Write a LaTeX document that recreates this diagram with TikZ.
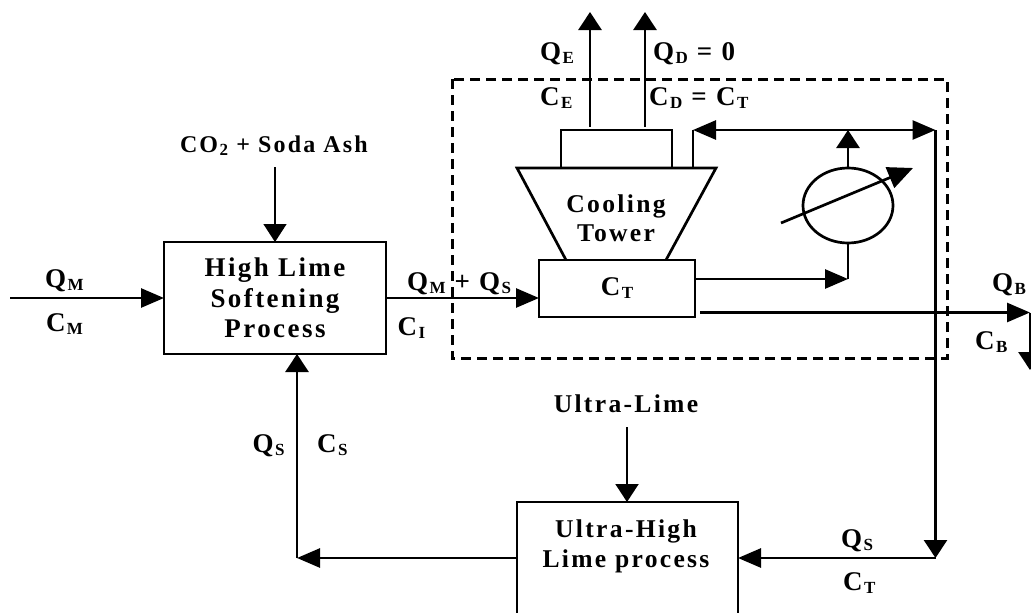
\documentclass[tikz,border=0pt]{standalone}
\usepackage{fontspec}
\usetikzlibrary{arrows.meta}
\newfontfamily\lblfont[LetterSpace=9]{Liberation Serif}
\newcommand{\sbs}[1]{\kern1.5pt{\fontsize{17}{17}\selectfont\raisebox{-3pt}{#1}}}
\tikzset{
  x=1pt,y=-1pt,
  every node/.style={inner sep=0pt,outer sep=0pt},
  lbl/.style={anchor=base west,font=\lblfont\bfseries\fontsize{27}{30.5}\selectfont},
  lblmd/.style={anchor=base,font=\lblfont\bfseries\fontsize{25.6}{30}\selectfont},
  lblsm/.style={anchor=base west,font=\lblfont\bfseries\fontsize{24}{26}\selectfont},
  pbox/.style={draw,line width=2.7pt,align=center,font=\lblfont\bfseries\fontsize{27}{30.5}\selectfont},
  pipe/.style={line width=2.7pt},
  hflow/.style={pipe,-{Triangle[length=23pt,width=19pt]}},
  vflow/.style={pipe,-{Triangle[length=18pt,width=23pt]}},
  thinflow/.style={line width=1.4pt,-{Triangle[length=18pt,width=23pt]}},
  dashbound/.style={line width=3pt,dash pattern=on 10pt off 6pt},
}
\begin{document}
\begin{tikzpicture}
\useasboundingbox (0,0) rectangle (1031,613);
% boundary
\draw[dashbound] (452,79) rectangle (947,358);
% blocks
\node[pbox,minimum width=222pt,minimum height=112pt] (hl) at (275,298) {High Lime\\Softening\\Process};
\node[pbox,minimum width=156pt,minimum height=57pt] (ct) at (617,288.5) {C\sbs{T}};
\node[pbox,minimum width=111pt,minimum height=38pt] (top) at (616.5,149) {};
\node[pbox,minimum width=221pt,minimum height=130pt] (uhl) at (627.5,567) {};
\node[lblmd] (uhlt1) at (626,537) {Ultra-High};
\node[lblmd] (uhlt2) at (626,567) {Lime process};
% tower
\coordinate (t1) at (517,168); \coordinate (t2) at (716,168);
\coordinate (t3) at (666,260); \coordinate (t4) at (566,260);
\draw[pipe,line join=miter] (t4) -- (t1) -- (t2) -- (t3);
\node[lblmd] (tw1) at (616,212) {Cooling};
\node[lblmd] (tw2) at (616,241) {Tower};
% exchanger
\draw[pipe] (848,205.5) ellipse [x radius=45,y radius=37.5];
\node[minimum width=90pt,minimum height=75pt] (hx) at (848,205.5) {};
% free ends and corners
\coordinate (mIn) at (10,298);
\coordinate (co2) at (275,167);
\coordinate (ulime) at (627,427);
\coordinate (eOut) at (590,12); \coordinate (eIn) at (590,127);
\coordinate (dOut) at (645,12); \coordinate (dIn) at (645,127);
\coordinate (riseB) at (693,168); \coordinate (riseT) at (693,130);
\coordinate (junc) at (935.5,130);
\coordinate (mid) at (848,130);
\coordinate (hxIn) at (848,279);
\coordinate (ctOut) at (695,279);
\coordinate (bdS) at (700,312.5);
\coordinate (bdE) at (1030,312.5);
\coordinate (bdT) at (1030,370);
\coordinate (retC) at (935.5,558);
\coordinate (sC) at (297,558);
\coordinate (dgA) at (781,223); \coordinate (dgB) at (913,168);
% connectors
\draw[hflow] (mIn) -- (hl.west);
\draw[thinflow] (co2) -- (hl.north);
\draw[hflow] (hl.east) -- (ct.west |- hl.east);
\draw[vflow] (eIn) -- (eOut);
\draw[vflow] (dIn) -- (dOut);
\draw[pipe] (riseB) -- (riseT);
\draw[hflow] (mid) -- (riseT);
\draw[hflow] (mid) -- (junc);
\draw[vflow] (hx.north) -- (mid);
\draw[hflow] (ctOut) -- (hxIn);
\draw[pipe] (hxIn) -- (hx.south);
\draw[pipe,-{Triangle[length=25pt,width=22pt]}] (dgA) -- (dgB);
\draw[vflow] (junc) -- (retC);
\draw[hflow] (retC) -- (uhl.east |- retC);
\draw[hflow] (uhl.west |- sC) -- (sC);
\draw[vflow] (sC) -- (sC |- hl.south);
\draw[vflow,line width=2pt] (ulime) -- (ulime |- uhl.north);
\draw[hflow] (bdS) -- (bdE);
\draw[vflow] (bdE) -- (bdT);
% labels
\node[lbl] (qm) at (45,287) {Q\sbs{M}};
\node[lbl] (cm) at (46,331) {C\sbs{M}};
\node[lblsm] (co2t) at (180,152) {CO\sbs{2} + Soda Ash};
\node[lbl] (qms) at (407,290) {Q\sbs{M}\kern9pt+ Q\sbs{S}};
\node[lbl] (ci) at (397.5,335) {C\sbs{I}};
\node[lbl] (qe) at (540,60) {Q\sbs{E}};
\node[lbl] (ce) at (540,105) {C\sbs{E}};
\node[lbl] (qd) at (653,60) {Q\sbs{D} = 0};
\node[lbl] (cd) at (649,105) {C\sbs{D} = C\sbs{T}};
\node[lbl] (qb) at (992,291) {Q\sbs{B}};
\node[lbl] (cb) at (975,349) {C\sbs{B}};
\node[lbl] (qsl) at (252.5,452) {Q\sbs{S}};
\node[lbl] (csl) at (317,452) {C\sbs{S}};
\node[lblmd] (ult) at (626,412) {Ultra-Lime};
\node[lbl] (qsr) at (841,547) {Q\sbs{S}};
\node[lbl] (ctr) at (843,590) {C\sbs{T}};
\end{tikzpicture}
\end{document}
